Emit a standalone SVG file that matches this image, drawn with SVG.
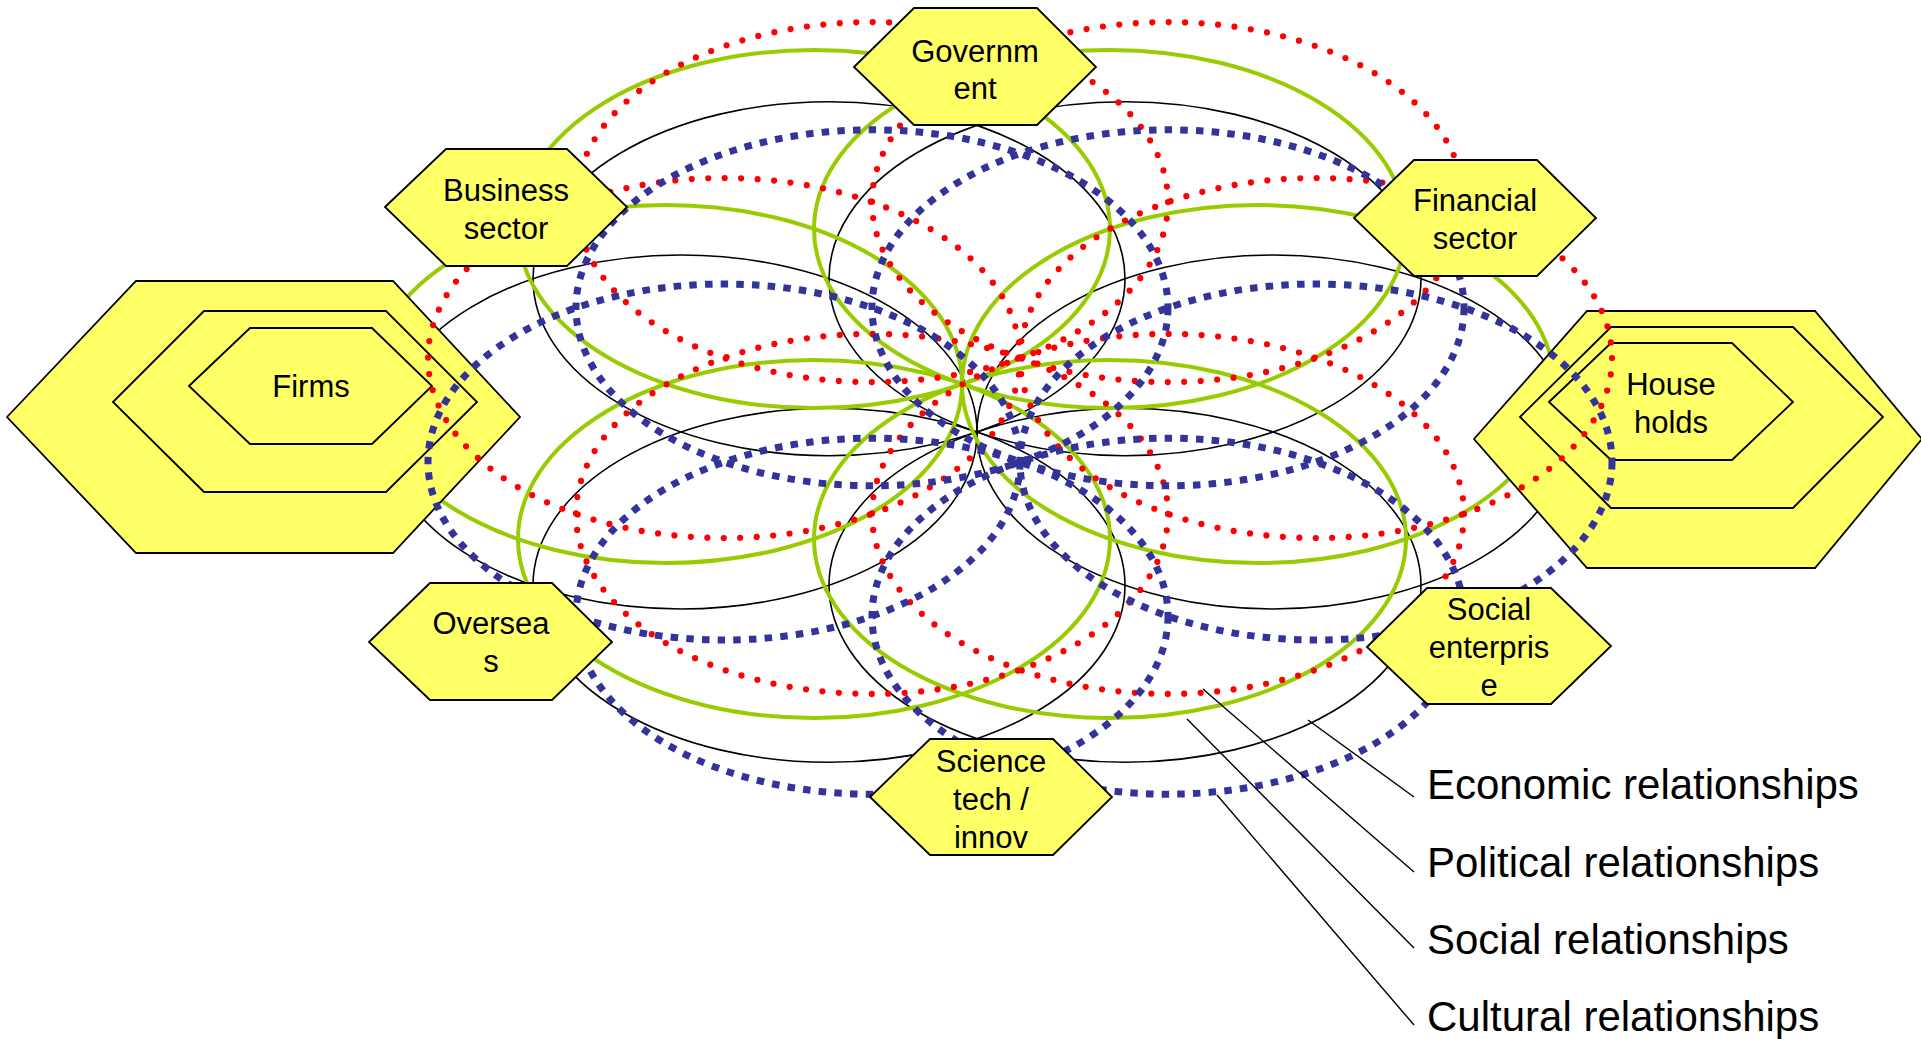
<svg xmlns="http://www.w3.org/2000/svg" width="1921" height="1039" viewBox="0 0 1921 1039">
<style>
  .eco { fill: none; stroke: #000000; stroke-width: 1.6; }
  .soc { fill: none; stroke: #99CC00; stroke-width: 4; }
  .pol { fill: none; stroke: #FF0000; stroke-width: 6.2; stroke-linecap: round; stroke-dasharray: 0 16.5; }
  .cul { fill: none; stroke: #333399; stroke-width: 7; stroke-dasharray: 7.5 8.2; }
  .hex { fill: #FFFF66; stroke: #000000; stroke-width: 1.8; stroke-linejoin: miter; }
  .lbl { font-family: "Liberation Sans", Arial, sans-serif; font-size: 31px; fill: #000000; text-anchor: middle; }
  .leg { font-family: "Liberation Sans", Arial, sans-serif; font-size: 42px; fill: #000000; }
  .lead { stroke: #000000; stroke-width: 1.4; fill: none; }
</style>
<rect x="0" y="0" width="1921" height="1039" fill="#FFFFFF"/>

<g id="connectors-lower">
  <g id="economic-relationships">
    <ellipse class="eco" cx="1273" cy="432" rx="296" ry="177"/>
    <ellipse class="eco" cx="1125" cy="585.3" rx="296" ry="177"/>
    <ellipse class="eco" cx="829" cy="585.3" rx="296" ry="177"/>
    <ellipse class="eco" cx="681" cy="432" rx="296" ry="177"/>
    <ellipse class="eco" cx="829" cy="278.7" rx="296" ry="177"/>
    <ellipse class="eco" cx="1125" cy="278.7" rx="296" ry="177"/>
  </g>
  <g id="social-relationships">
    <ellipse class="soc" cx="1258" cy="384" rx="296" ry="179"/>
    <ellipse class="soc" cx="1110" cy="539" rx="296" ry="179"/>
    <ellipse class="soc" cx="814" cy="539" rx="296" ry="179"/>
    <ellipse class="soc" cx="666" cy="384" rx="296" ry="179"/>
    <ellipse class="soc" cx="814" cy="229" rx="296" ry="179"/>
    <ellipse class="soc" cx="1110" cy="229" rx="296" ry="179"/>
  </g>
</g>

<g id="node-firms">
  <polygon class="hex" points="7,417 136,281 393,281 520,417 393,553 136,553"/>
  <polygon class="hex" points="113,402 204,311 386,311 477,402 386,492 204,492"/>
  <polygon class="hex" points="189,386 250,328 372,328 432,386 372,444 250,444"/>
  <text class="lbl" x="311" y="397">Firms</text>
</g>
<g id="node-households">
  <polygon class="hex" points="1474,439 1587,311 1815,311 1922,439 1815,568 1587,568"/>
  <polygon class="hex" points="1520,417 1611,327 1793,327 1883,417 1793,508 1611,508"/>
  <polygon class="hex" points="1549,402 1611,343 1732,343 1793,402 1732,460 1611,460"/>
  <text class="lbl" x="1671" y="395">House</text>
  <text class="lbl" x="1671" y="433">holds</text>
</g>

<g id="connectors-upper">
  <g id="political-relationships">
    <ellipse class="pol" cx="1316" cy="358" rx="296" ry="180"/>
    <ellipse class="pol" cx="1168" cy="513.9" rx="296" ry="180"/>
    <ellipse class="pol" cx="872" cy="513.9" rx="296" ry="180"/>
    <ellipse class="pol" cx="724" cy="358" rx="296" ry="180"/>
    <ellipse class="pol" cx="872" cy="202.1" rx="296" ry="180"/>
    <ellipse class="pol" cx="1168" cy="202.1" rx="296" ry="180"/>
  </g>
  <g id="cultural-relationships">
    <ellipse class="cul" cx="1316" cy="462" rx="296" ry="178"/>
    <ellipse class="cul" cx="1168" cy="616.2" rx="296" ry="178"/>
    <ellipse class="cul" cx="872" cy="616.2" rx="296" ry="178"/>
    <ellipse class="cul" cx="724" cy="462" rx="296" ry="178"/>
    <ellipse class="cul" cx="872" cy="307.8" rx="296" ry="178"/>
    <ellipse class="cul" cx="1168" cy="307.8" rx="296" ry="178"/>
  </g>
</g>

<g id="node-government">
  <polygon class="hex" points="854,67 914,8 1037,8 1096,67 1037,125 914,125"/>
  <text class="lbl" x="975" y="62">Governm</text>
  <text class="lbl" x="975" y="99">ent</text>
</g>
<g id="node-business-sector">
  <polygon class="hex" points="385,207 446,149 567,149 627,207 567,266 446,266"/>
  <text class="lbl" x="506" y="201">Business</text>
  <text class="lbl" x="506" y="239">sector</text>
</g>
<g id="node-financial-sector">
  <polygon class="hex" points="1354,218 1414,160 1537,160 1596,218 1537,276 1414,276"/>
  <text class="lbl" x="1475" y="211">Financial</text>
  <text class="lbl" x="1475" y="249">sector</text>
</g>
<g id="node-overseas">
  <polygon class="hex" points="369,642 430,583 552,583 612,642 552,700 430,700"/>
  <text class="lbl" x="491" y="634">Oversea</text>
  <text class="lbl" x="491" y="672">s</text>
</g>
<g id="node-science">
  <polygon class="hex" points="870,797 930,739 1053,739 1112,797 1053,855 930,855"/>
  <text class="lbl" x="991" y="772">Science</text>
  <text class="lbl" x="991" y="810">tech /</text>
  <text class="lbl" x="991" y="848">innov</text>
</g>
<g id="node-social-enterprise">
  <polygon class="hex" points="1367,647 1427,588 1551,588 1611,646 1551,704 1427,704"/>
  <text class="lbl" x="1489" y="620">Social</text>
  <text class="lbl" x="1489" y="658">enterpris</text>
  <text class="lbl" x="1489" y="696">e</text>
</g>

<g id="legend">
  <line class="lead" x1="1308" y1="720" x2="1414" y2="797"/>
  <line class="lead" x1="1203" y1="689" x2="1414" y2="872"/>
  <line class="lead" x1="1187" y1="719" x2="1414" y2="948"/>
  <line class="lead" x1="1217" y1="795" x2="1414" y2="1025"/>
  <text class="leg" x="1427" y="799">Economic relationships</text>
  <text class="leg" x="1427" y="877">Political relationships</text>
  <text class="leg" x="1427" y="954">Social relationships</text>
  <text class="leg" x="1427" y="1031">Cultural relationships</text>
</g>
</svg>
